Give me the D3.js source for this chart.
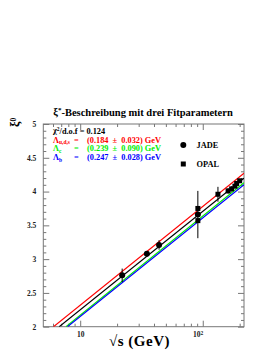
<!DOCTYPE html>
<html lang="de">
<head>
<meta charset="UTF-8">
<title>xi* Fit</title>
<style>
  body { margin: 0; background: #fff; }
  svg { display: block; }
  text { font-family: "Liberation Serif", "DejaVu Serif", serif; font-weight: bold; }
</style>
<script src="https://d3js.org/d3.v7.min.js"></script>
</head>
<body>
<div id="chart"></div>
<script>
// data
const jadeX   = [22, 35, 44, 91.2];
const jadeY   = [2.76, 3.08, 3.21, 3.66];
const jadeErr = [0.10, 0.04, 0.07, 0.35];

const opalX   = [91.2, 91.2, 133, 161, 172, 183, 189, 200];
const opalY   = [3.75, 3.57, 3.96, 4.01, 4.04, 4.08, 4.12, 4.16];
const opalErr = [0.02, 0.02, 0.11, 0.04, 0.04, 0.03, 0.02, 0.02];

// fit curves (sqrt s, xi*) end points
const fitUds  = [[6.06, 2.0], [217, 4.27]];
const fitAll  = [[6.74, 2.0], [217, 4.196]];
const fitC    = [[7.65, 2.0], [217, 4.13]];
const fitB    = [[7.88, 2.0], [217, 4.10]];

const yMajor = [2, 2.5, 3, 3.5, 4, 4.5, 5];
const xMajor = [10, 100];
const xMinor = [6, 7, 8, 9, 20, 30, 40, 50, 60, 70, 80, 90, 200];

const W = 270, H = 350;
const pLeft = 43.3, pRight = 244, pTop = 124, pBottom = 326.7;

const svg = d3.select("#chart").append("svg").attr("width", W).attr("height", H);

const x = d3.scaleLog().domain([5, 217]).range([pLeft, pRight]);
const y = d3.scaleLinear().domain([2, 5]).range([pBottom, pTop]);

const axisCol = "#777";

// clip for the fit lines
svg.append("clipPath").attr("id", "clip")
  .append("rect").attr("x", pLeft).attr("y", pTop).attr("width", pRight - pLeft).attr("height", pBottom - pTop);

// frame
svg.append("rect").attr("x", pLeft).attr("y", pTop).attr("width", pRight - pLeft).attr("height", pBottom - pTop)
  .attr("fill", "none").attr("stroke", axisCol).attr("stroke-width", 1);

function styleAxis(g) {
  g.select(".domain").remove();
  g.selectAll(".tick line").attr("stroke", axisCol);
  g.selectAll("text").attr("fill", "#222").style("font-size", "7.5px").style("font-family", "Liberation Serif").style("font-weight", "bold");
}

const yMinor = d3.range(2, 5.001, 0.1).filter(v => !yMajor.some(m => Math.abs(m - v) < 1e-6));

// left axis
svg.append("g").attr("transform", `translate(${pLeft},0)`)
  .call(d3.axisLeft(y).tickValues(yMajor).tickSize(-6).tickPadding(7).tickFormat(d3.format("")))
  .call(styleAxis);
svg.append("g").attr("transform", `translate(${pLeft},0)`)
  .call(d3.axisLeft(y).tickValues(yMinor).tickSize(-3).tickFormat(""))
  .call(styleAxis);
// right axis
svg.append("g").attr("transform", `translate(${pRight},0)`)
  .call(d3.axisRight(y).tickValues(yMajor).tickSize(-6).tickFormat(""))
  .call(styleAxis);
svg.append("g").attr("transform", `translate(${pRight},0)`)
  .call(d3.axisRight(y).tickValues(yMinor).tickSize(-3).tickFormat(""))
  .call(styleAxis);

// bottom axis
const xb = svg.append("g").attr("transform", `translate(0,${pBottom})`)
  .call(d3.axisBottom(x).tickValues(xMajor).tickSize(-6).tickPadding(5).tickFormat(() => "10"))
  .call(styleAxis);
xb.selectAll(".tick text").filter(d => d === 100)
  .attr("text-anchor", "end").attr("x", 0)
  .append("tspan").attr("dy", "-0.35em").style("font-size", "5.5px").text("2");
svg.append("g").attr("transform", `translate(0,${pBottom})`)
  .call(d3.axisBottom(x).tickValues(xMinor).tickSize(-3).tickFormat(""))
  .call(styleAxis);
// top axis
svg.append("g").attr("transform", `translate(0,${pTop})`)
  .call(d3.axisTop(x).tickValues(xMajor).tickSize(-6).tickFormat(""))
  .call(styleAxis);
svg.append("g").attr("transform", `translate(0,${pTop})`)
  .call(d3.axisTop(x).tickValues(xMinor).tickSize(-3).tickFormat(""))
  .call(styleAxis);

// fit lines
const line = d3.line().x(d => x(d[0])).y(d => y(d[1]));
const fits = [[fitUds, "#ff0000"], [fitAll, "#000000"], [fitC, "#00ee00"], [fitB, "#0000ff"]];
svg.append("g").attr("clip-path", "url(#clip)")
  .selectAll("path").data(fits).join("path")
  .attr("d", d => line(d[0]))
  .attr("fill", "none").attr("stroke", d => d[1]).attr("stroke-width", 1.2);

// error bars
const jade = jadeX.map((v, i) => ({ x: v, y: jadeY[i], e: jadeErr[i] }));
const opal = opalX.map((v, i) => ({ x: v, y: opalY[i], e: opalErr[i] }));
svg.append("g").selectAll("line").data(jade.concat(opal)).join("line")
  .attr("x1", d => x(d.x)).attr("x2", d => x(d.x))
  .attr("y1", d => y(d.y - d.e)).attr("y2", d => y(d.y + d.e))
  .attr("stroke", "#000").attr("stroke-width", 1);

// markers
svg.append("g").selectAll("circle").data(jade).join("circle")
  .attr("cx", d => x(d.x)).attr("cy", d => y(d.y)).attr("r", 3).attr("fill", "#000");
svg.append("g").selectAll("rect").data(opal).join("rect")
  .attr("x", d => x(d.x) - 2.5).attr("y", d => y(d.y) - 2.5)
  .attr("width", 5).attr("height", 5).attr("fill", "#000");

// legend markers
svg.append("circle").attr("cx", 183.3).attr("cy", 145).attr("r", 3).attr("fill", "#000");
svg.append("rect").attr("x", 180.8).attr("y", 161.5).attr("width", 5).attr("height", 5).attr("fill", "#000");
svg.append("text").attr("x", 196.5).attr("y", 148).style("font-size", "8.3px").text("JADE");
svg.append("text").attr("x", 196.5).attr("y", 167).style("font-size", "8.3px").text("OPAL");

// fit result texts
const info = svg.append("g").style("font-size", "8.3px");
const chi = info.append("text").attr("x", 53).attr("y", 133);
chi.append("tspan").text("χ");
chi.append("tspan").attr("dy", "-0.4em").style("font-size", "5.5px").text("2");
chi.append("tspan").attr("dy", "0.4em").text("/d.o.f = 0.124");

const lams = [
  ["u,d,s", "(0.184  ±  0.032) GeV", "#ff0000", 142.8],
  ["c", "(0.239  ±  0.090) GeV", "#00ee00", 151.3],
  ["b", "(0.247  ±  0.028) GeV", "#0000ff", 160.3]
];
lams.forEach(l => {
  const t = info.append("text").attr("y", l[3]).attr("fill", l[2]).attr("xml:space", "preserve");
  t.append("tspan").attr("x", 53).text("Λ");
  t.append("tspan").attr("dy", "0.3em").style("font-size", "5.5px").text(l[0]);
  t.append("tspan").attr("x", 74).attr("y", l[3]).text("=");
  t.append("tspan").attr("x", 87).text(l[1]);
});

// title
svg.append("text").attr("x", 143).attr("y", 115).attr("text-anchor", "middle")
  .style("font-size", "10.5px")
  .call(t => {
    t.append("tspan").text("ξ");
    t.append("tspan").attr("dy", "-0.4em").style("font-size", "7px").text("*");
    t.append("tspan").attr("dy", "0.4em").text("-Beschreibung mit drei Fitparametern");
  });

// y title
svg.append("text").attr("transform", "translate(19,127) rotate(-90)")
  .style("font-size", "12.5px")
  .call(t => {
    t.append("tspan").text("ξ");
    t.append("tspan").attr("dy", "-0.45em").style("font-size", "7.5px").text("0");
  });

// x title
svg.append("text").attr("x", 139.5).attr("y", 345.5).attr("text-anchor", "middle")
  .style("font-size", "15px").style("letter-spacing", "0.5px").text("√s (GeV)");
</script>
</body>
</html>
